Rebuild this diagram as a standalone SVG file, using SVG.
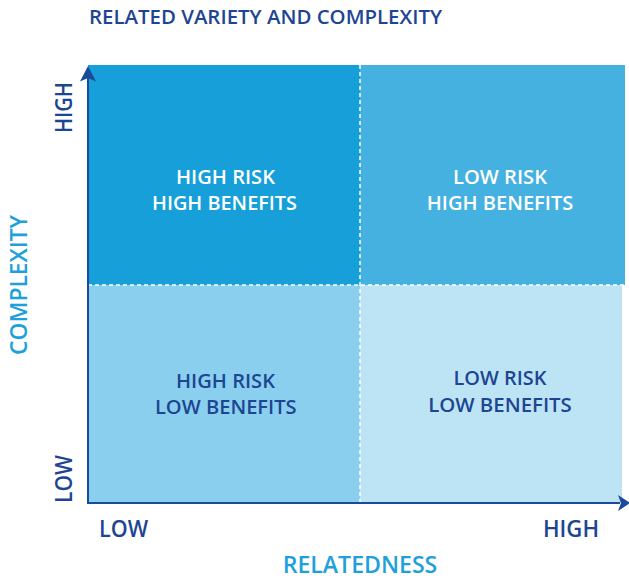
<svg xmlns="http://www.w3.org/2000/svg" width="629" height="580" viewBox="0 0 629 580">
<style>
text{font-family:"Open Sans","Liberation Sans",Arial,sans-serif;font-weight:600}
.dk{fill:#1d4592}
.wh{fill:#ffffff}
.lb{fill:#1ea0dc}
.q{font-size:19.5px;text-anchor:middle}
.ax{font-size:23px}
.div{stroke:#ffffff;stroke-width:1.5;stroke-dasharray:4 3;fill:none}
.axis{stroke:#1b4a9a;stroke-width:2;fill:none}
</style>
<text class="dk" x="89" y="24" font-size="20.5" textLength="353" lengthAdjust="spacingAndGlyphs">RELATED VARIETY AND COMPLEXITY</text>
<g id="q-tl">
<rect x="88" y="65" width="272" height="220" fill="#169fd9"/>
<text class="q wh" x="225.5" y="183.5" textLength="99" lengthAdjust="spacingAndGlyphs">HIGH RISK</text>
<text class="q wh" x="224.5" y="209.5" textLength="145" lengthAdjust="spacingAndGlyphs">HIGH BENEFITS</text>
</g>
<g id="q-tr">
<rect x="360" y="65" width="265" height="220" fill="#45b1e1"/>
<text class="q wh" x="500" y="183.5" textLength="94" lengthAdjust="spacingAndGlyphs">LOW RISK</text>
<text class="q wh" x="500" y="209.5" textLength="146.5" lengthAdjust="spacingAndGlyphs">HIGH BENEFITS</text>
</g>
<g id="q-bl">
<rect x="88" y="285" width="272" height="218" fill="#8ad0ee"/>
<text class="q dk" x="225.5" y="387.7" textLength="99" lengthAdjust="spacingAndGlyphs">HIGH RISK</text>
<text class="q dk" x="225.8" y="414.3" textLength="141.7" lengthAdjust="spacingAndGlyphs">LOW BENEFITS</text>
</g>
<g id="q-br">
<rect x="360" y="285" width="262" height="218" fill="#bde4f4"/>
<text class="q dk" x="500" y="385" textLength="93" lengthAdjust="spacingAndGlyphs">LOW RISK</text>
<text class="q dk" x="500" y="412.3" textLength="143.7" lengthAdjust="spacingAndGlyphs">LOW BENEFITS</text>
</g>
<g id="dividers">
<line class="div" x1="360" y1="65" x2="360" y2="503"/>
<line class="div" x1="88" y1="285" x2="625" y2="285"/>
</g>
<g id="axes">
<line class="axis" x1="88" y1="504" x2="88" y2="76"/>
<path d="M88,66 L96,81.5 L88,78 L80,81.5 Z" fill="#1b4a9a"/>
<line class="axis" x1="87" y1="503" x2="620" y2="503"/>
<path d="M630,503 L618,495 L621,503 L618,511 Z" fill="#1b4a9a"/>
</g>
<g id="labels">
<text class="ax dk" x="99" y="537" textLength="49" lengthAdjust="spacingAndGlyphs">LOW</text>
<text class="ax dk" x="543" y="537" textLength="56" lengthAdjust="spacingAndGlyphs">HIGH</text>
<text class="ax lb" x="282.7" y="573.3" textLength="154.6" lengthAdjust="spacingAndGlyphs">RELATEDNESS</text>
<text class="ax dk" transform="translate(72,133) rotate(-90)" x="0" y="0" textLength="51" lengthAdjust="spacingAndGlyphs">HIGH</text>
<text class="ax dk" transform="translate(72,503) rotate(-90)" x="0" y="0" textLength="48" lengthAdjust="spacingAndGlyphs">LOW</text>
<text class="ax lb" transform="translate(27,355) rotate(-90)" x="0" y="0" textLength="140" lengthAdjust="spacingAndGlyphs">COMPLEXITY</text>
</g>
</svg>
